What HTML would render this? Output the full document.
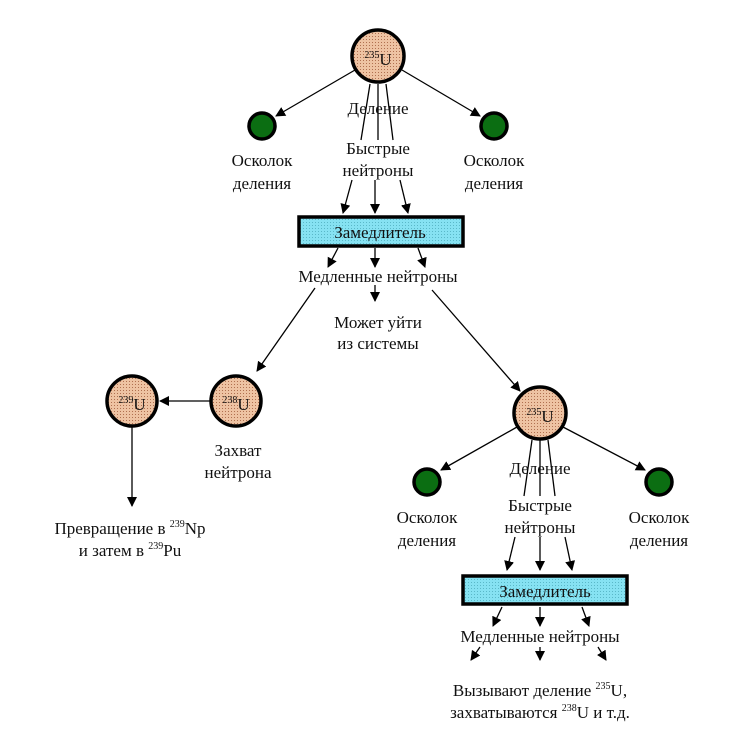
<!DOCTYPE html>
<html><head><meta charset="utf-8"><style>
html,body{margin:0;padding:0;background:#fff;}
svg{display:block;}
text{font-family:"Liberation Serif","Noto Serif CJK SC",serif;font-size:17px;fill:#111;}
.sup{font-size:10px;}
</style></head><body>
<svg width="731" height="737" viewBox="0 0 731 737" xmlns="http://www.w3.org/2000/svg">
<defs>
<marker id="a" markerWidth="10" markerHeight="10" refX="9" refY="5" orient="auto" markerUnits="userSpaceOnUse">
<path d="M0,0 L10,5 L0,10 z" fill="#000"/></marker>
<pattern id="dots" width="3" height="3" patternUnits="userSpaceOnUse">
<rect width="3" height="3" fill="#eec3a3"/><rect width="1" height="1" fill="#b07050"/></pattern>
<pattern id="cy" width="3" height="3" patternUnits="userSpaceOnUse">
<rect width="3" height="3" fill="#86e2f2"/><rect width="1" height="1" fill="#5ab8c8"/></pattern>
</defs>
<g stroke="#000" stroke-width="1.3" fill="none">
<!-- top -->
<line x1="355" y1="70" x2="276" y2="116" marker-end="url(#a)"/>
<line x1="402" y1="70" x2="480" y2="116" marker-end="url(#a)"/>
<line x1="370" y1="84" x2="361" y2="140"/>
<line x1="378" y1="84" x2="378" y2="140"/>
<line x1="386" y1="84" x2="393" y2="140"/>
<line x1="352" y1="180" x2="343" y2="213" marker-end="url(#a)"/>
<line x1="375" y1="180" x2="375" y2="213" marker-end="url(#a)"/>
<line x1="400" y1="180" x2="408" y2="213" marker-end="url(#a)"/>
<line x1="338" y1="248" x2="328" y2="267" marker-end="url(#a)"/>
<line x1="375" y1="248" x2="375" y2="267" marker-end="url(#a)"/>
<line x1="418" y1="248" x2="425" y2="267" marker-end="url(#a)"/>
<line x1="375" y1="285" x2="375" y2="301" marker-end="url(#a)"/>
<line x1="315" y1="288" x2="257" y2="371" marker-end="url(#a)"/>
<line x1="432" y1="290" x2="520" y2="391" marker-end="url(#a)"/>
<!-- left -->
<line x1="210" y1="401" x2="160" y2="401" marker-end="url(#a)"/>
<line x1="132" y1="427" x2="132" y2="506" marker-end="url(#a)"/>
<!-- right -->
<line x1="517" y1="427" x2="441" y2="470" marker-end="url(#a)"/>
<line x1="563" y1="427" x2="645" y2="470" marker-end="url(#a)"/>
<line x1="532" y1="440" x2="524" y2="496"/>
<line x1="540" y1="440" x2="540" y2="496"/>
<line x1="548" y1="440" x2="555" y2="496"/>
<line x1="515" y1="537" x2="507" y2="570" marker-end="url(#a)"/>
<line x1="540" y1="537" x2="540" y2="570" marker-end="url(#a)"/>
<line x1="565" y1="537" x2="572" y2="570" marker-end="url(#a)"/>
<line x1="502" y1="607" x2="493" y2="626" marker-end="url(#a)"/>
<line x1="540" y1="607" x2="540" y2="626" marker-end="url(#a)"/>
<line x1="582" y1="607" x2="589" y2="626" marker-end="url(#a)"/>
<line x1="480" y1="647" x2="471" y2="660" marker-end="url(#a)"/>
<line x1="540" y1="647" x2="540" y2="660" marker-end="url(#a)"/>
<line x1="598" y1="647" x2="606" y2="660" marker-end="url(#a)"/>
</g>
<g stroke="#000" stroke-width="3.5">
<circle cx="378" cy="56" r="26" fill="url(#dots)"/>
<circle cx="236" cy="401" r="25" fill="url(#dots)"/>
<circle cx="132" cy="401" r="25" fill="url(#dots)"/>
<circle cx="540" cy="413" r="26" fill="url(#dots)"/>
<circle cx="262" cy="126" r="13" fill="#0b6e12"/>
<circle cx="494" cy="126" r="13" fill="#0b6e12"/>
<circle cx="427" cy="482" r="13" fill="#0b6e12"/>
<circle cx="659" cy="482" r="13" fill="#0b6e12"/>
<rect x="299" y="217" width="164" height="29" fill="url(#cy)"/>
<rect x="463" y="576" width="164" height="28" fill="url(#cy)"/>
</g>
<g text-anchor="middle">
<text x="378" y="65"><tspan class="sup" dy="-7">235</tspan><tspan dy="7">U</tspan></text>
<text x="236" y="410"><tspan class="sup" dy="-7">238</tspan><tspan dy="7">U</tspan></text>
<text x="132" y="410"><tspan class="sup" dy="-7">239</tspan><tspan dy="7">U</tspan></text>
<text x="540" y="422"><tspan class="sup" dy="-7">235</tspan><tspan dy="7">U</tspan></text>
<text x="378" y="114">Деление</text>
<text x="378" y="154">Быстрые</text>
<text x="378" y="176">нейтроны</text>
<text x="262" y="166">Осколок</text>
<text x="262" y="189">деления</text>
<text x="494" y="166">Осколок</text>
<text x="494" y="189">деления</text>
<text x="380" y="238">Замедлитель</text>
<text x="378" y="282">Медленные нейтроны</text>
<text x="378" y="328">Может уйти</text>
<text x="378" y="349">из системы</text>
<text x="238" y="456">Захват</text>
<text x="238" y="478">нейтрона</text>
<text x="130" y="534">Превращение в <tspan class="sup" dy="-7">239</tspan><tspan dy="7">Np</tspan></text>
<text x="130" y="556">и затем в <tspan class="sup" dy="-7">239</tspan><tspan dy="7">Pu</tspan></text>
<text x="540" y="474">Деление</text>
<text x="540" y="511">Быстрые</text>
<text x="540" y="533">нейтроны</text>
<text x="427" y="523">Осколок</text>
<text x="427" y="546">деления</text>
<text x="659" y="523">Осколок</text>
<text x="659" y="546">деления</text>
<text x="545" y="597">Замедлитель</text>
<text x="540" y="642">Медленные нейтроны</text>
<text x="540" y="696">Вызывают деление <tspan class="sup" dy="-7">235</tspan><tspan dy="7">U,</tspan></text>
<text x="540" y="718">захватываются <tspan class="sup" dy="-7">238</tspan><tspan dy="7">U и т.д.</tspan></text>
</g>
</svg>
</body></html>
